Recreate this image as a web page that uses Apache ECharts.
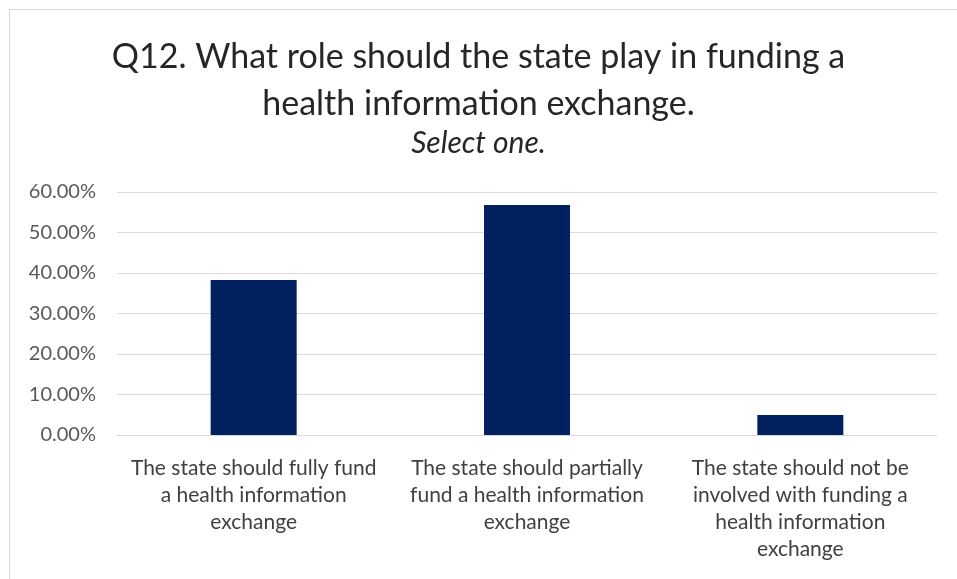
<!DOCTYPE html>
<html>
<head>
<meta charset="utf-8">
<script src="https://cdn.jsdelivr.net/npm/echarts@6/dist/echarts.min.js"></script>
<style>
    html, body { margin: 0; padding: 0; background: #fff; }
    #chart { width: 957px; height: 579px; }
    .frame { position: absolute; left: 9px; top: 9px; width: 960px; height: 600px; border: 1px solid #d9d9d9; box-sizing: border-box; pointer-events: none; }
</style>
</head>
<body>
<div id="chart"></div>
<div class="frame"></div>
<script>
// categories
var categories = [
    'The state should fully fund\na health information\nexchange',
    'The state should partially\nfund a health information\nexchange',
    'The state should not be\ninvolved with funding a\nhealth information\nexchange'
];
// share of answers (%)
var values = [38.27, 56.79, 4.94];

var font = 'Lato, "Open Sans", sans-serif';
var myChart = echarts.init(document.getElementById('chart'));
var option = {
    animation: false,
    title: [
        {
            text: 'Q12. What role should the state play in funding a\nhealth information exchange.',
            left: 'center',
            top: 29,
            textStyle: { fontFamily: font, fontSize: 34, fontWeight: 'normal', color: '#262626', lineHeight: 47 }
        },
        {
            text: 'Select one.',
            left: 'center',
            top: 123,
            textStyle: { fontFamily: font, fontSize: 30, fontWeight: 'normal', fontStyle: 'italic', color: '#262626' }
        }
    ],
    grid: { left: 117, right: 20, top: 192, bottom: 144 },
    xAxis: {
        type: 'category',
        data: categories,
        axisLine: { lineStyle: { color: '#d9d9d9', width: 1 } },
        axisTick: { show: false },
        axisLabel: { fontFamily: font, fontSize: 21, color: '#404040', lineHeight: 27, margin: 20, interval: 0 }
    },
    yAxis: {
        type: 'value',
        min: 0,
        max: 60,
        interval: 10,
        axisLine: { show: false },
        axisTick: { show: false },
        splitLine: { lineStyle: { color: '#d9d9d9', width: 1 } },
        axisLabel: {
            fontFamily: font, fontSize: 20, color: '#595959', margin: 21,
            formatter: function (v) { return v.toFixed(2) + '%'; }
        }
    },
    series: [
        {
            type: 'bar',
            data: values,
            barWidth: 86,
            itemStyle: { color: '#002060' }
        }
    ]
};
myChart.setOption(option);
</script>
</body>
</html>
